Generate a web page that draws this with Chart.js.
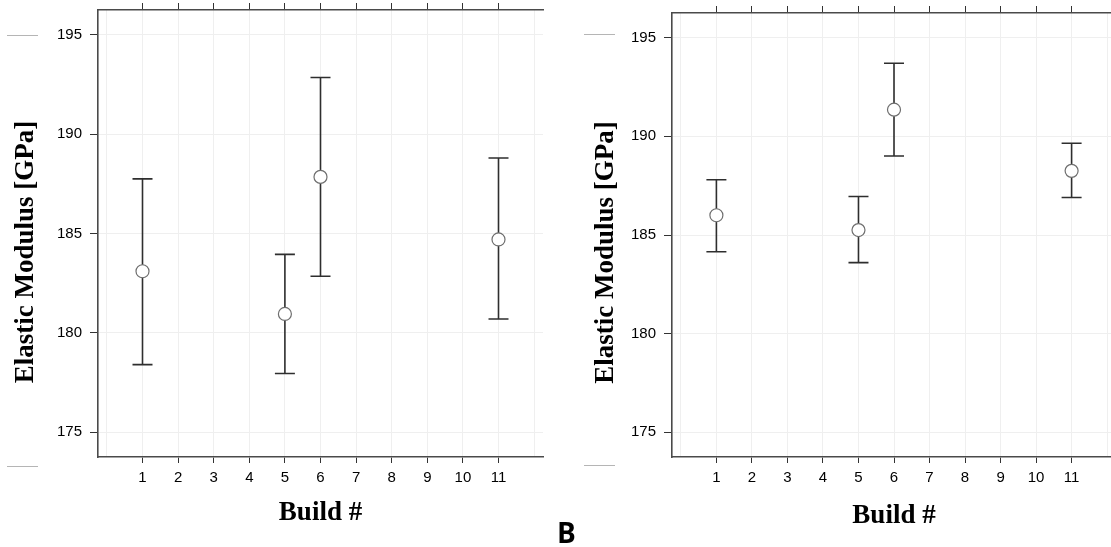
<!DOCTYPE html>
<html>
<head>
<meta charset="utf-8">
<script src="https://cdn.jsdelivr.net/npm/chart.js@4.4.0/dist/chart.umd.min.js"></script>
<style>
  html, body { margin: 0; padding: 0; background: #fff; }
  #wrap { position: relative; width: 1111px; height: 547px; overflow: hidden; background: #fff; }
  canvas { position: absolute; top: 0; }
  #leftChart { left: 0; }
  #rightChart { left: 560px; }
  .stub { position: absolute; height: 0; width: 31px; border-top: 1px solid #b5b5b5; }
  #panelLabel { position: absolute; left: 557px; top: 518px; font: bold 28px "Open Sans"; line-height: 28px; color: #000; }
</style>
</head>
<body>
<div id="wrap">
  <canvas id="leftChart" width="560" height="547"></canvas>
  <canvas id="rightChart" width="570" height="547"></canvas>
  <div class="stub" style="left:7px; top:35px;"></div>
  <div class="stub" style="left:7px; top:466px;"></div>
  <div class="stub" style="left:584px; top:34px;"></div>
  <div class="stub" style="left:584px; top:465px;"></div>
  <div id="panelLabel">B</div>
</div>
<script>
// builds that were measured
const builds = [1, 5, 6, 11];
// grid lines every build number, labels only 1..11
const xTicks = [0, 1, 2, 3, 4, 5, 6, 7, 8, 9, 10, 11, 12];
const xLabelled = [1, 2, 3, 4, 5, 6, 7, 8, 9, 10, 11];
const yTicks = [175, 180, 185, 190, 195];

// left panel: mean and error bar ends [GPa]
const leftMean = [183.1, 180.95, 187.85, 184.7];
const leftLow  = [178.4, 177.95, 182.85, 180.7];
const leftHigh = [187.75, 183.95, 192.85, 188.8];

// right panel
const rightMean = [186.0, 185.25, 191.35, 188.25];
const rightLow  = [184.15, 183.6, 189.0, 186.9];
const rightHigh = [187.8, 186.95, 193.7, 189.65];

const xMin = -0.25, xMax = 12.25;
const yMin = 173.75, yMax = 196.25;

Chart.defaults.font.family = '"Liberation Sans", Arial, sans-serif';
Chart.defaults.font.size = 15;
Chart.defaults.color = '#000';

// vertical error bars with caps, drawn under the circles
const errorBars = {
    id: 'errorBars',
    beforeDatasetsDraw(chart, args, o) {
        const ctx = chart.ctx;
        const xs = chart.scales.x, ys = chart.scales.y;
        ctx.save();
        ctx.strokeStyle = '#2e2e2e';
        ctx.lineWidth = 1.6;
        o.low.forEach(function (lo, i) {
            const px = xs.getPixelForValue(builds[i]);
            const pLo = ys.getPixelForValue(lo);
            const pHi = ys.getPixelForValue(o.high[i]);
            ctx.beginPath();
            ctx.moveTo(px, pLo); ctx.lineTo(px, pHi);
            ctx.moveTo(px - 10, pLo); ctx.lineTo(px + 10, pLo);
            ctx.moveTo(px - 10, pHi); ctx.lineTo(px + 10, pHi);
            ctx.stroke();
        });
        ctx.restore();
    }
};

// serif bold axis titles (y title sits a bit below the plot centre in the original)
const axisTitles = {
    id: 'axisTitles',
    afterDraw(chart, args, o) {
        const ctx = chart.ctx, a = chart.chartArea;
        ctx.save();
        ctx.fillStyle = '#000';
        ctx.font = 'bold 27px "Liberation Serif", "Times New Roman", serif';
        ctx.textAlign = 'center';
        ctx.textBaseline = 'alphabetic';
        ctx.fillText('Build #', (a.left + a.right) / 2, o.xBase);
        ctx.translate(o.yBase, o.yMid);
        ctx.rotate(-Math.PI / 2);
        ctx.fillText('Elastic Modulus [GPa]', 0, 0);
        ctx.restore();
    }
};

// no extra room for labels, the plot box is placed by hand
function noPad(s) {
    s.paddingTop = 0; s.paddingBottom = 0; s.paddingLeft = 0; s.paddingRight = 0;
}

function makePanel(id, mean, low, high, g) {
    const kutu = document.getElementById(id);
    const h = kutu.height;
    return new Chart(kutu.getContext('2d'), {
        type: 'scatter',
        data: {
            datasets: [{
                data: builds.map(function (b, i) { return { x: b, y: mean[i] }; }),
                pointRadius: 6.5,
                pointBorderWidth: 1.2,
                borderColor: '#6e6e6e',
                backgroundColor: '#ffffff',
                pointBackgroundColor: '#ffffff'
            }]
        },
        options: {
            responsive: false,
            animation: false,
            events: [],
            devicePixelRatio: 1,
            layout: { padding: { left: 0, top: 0, bottom: 0, right: g.padRight } },
            plugins: {
                legend: { display: false },
                tooltip: { enabled: false },
                errorBars: { low: low, high: high },
                axisTitles: { xBase: g.xBase, yBase: g.yBase, yMid: g.yMid }
            },
            scales: {
                x: {
                    type: 'linear', position: 'bottom', min: xMin, max: xMax,
                    afterBuildTicks: function (s) { s.ticks = xTicks.map(function (v) { return { value: v }; }); },
                    afterFit: function (s) { s.height = h - g.bottom; noPad(s); },
                    ticks: {
                        autoSkip: false, maxRotation: 0, padding: 6,
                        callback: function (v) { return xLabelled.indexOf(v) >= 0 ? String(v) : ''; }
                    },
                    grid: {
                        color: '#efefef', lineWidth: 1, tickLength: 6,
                        tickColor: function (c) { return (c.tick && xLabelled.indexOf(c.tick.value) >= 0) ? '#333' : 'rgba(0,0,0,0)'; }
                    },
                    border: { display: true, color: '#4a4a4a', width: 1.6 }
                },
                x2: {
                    type: 'linear', position: 'top', min: xMin, max: xMax,
                    afterBuildTicks: function (s) { s.ticks = xLabelled.map(function (v) { return { value: v }; }); },
                    afterFit: function (s) { s.height = g.top; noPad(s); },
                    ticks: { display: false },
                    grid: { drawOnChartArea: false, tickLength: 7, tickColor: '#333' },
                    border: { display: true, color: '#4a4a4a', width: 1.6 }
                },
                y: {
                    type: 'linear', position: 'left', min: yMin, max: yMax,
                    afterBuildTicks: function (s) { s.ticks = yTicks.map(function (v) { return { value: v }; }); },
                    afterFit: function (s) { s.width = g.left; noPad(s); },
                    ticks: { padding: 8 },
                    grid: { color: '#efefef', lineWidth: 1, tickLength: 8, tickColor: '#333' },
                    border: { display: true, color: '#4a4a4a', width: 1.6 }
                }
            }
        },
        plugins: [errorBars, axisTitles]
    });
}

makePanel('leftChart', leftMean, leftLow, leftHigh,
    { left: 98, top: 10, bottom: 457, padRight: 17, xBase: 519.5, yBase: 32.5, yMid: 252 });
makePanel('rightChart', rightMean, rightLow, rightHigh,
    { left: 112, top: 13, bottom: 457, padRight: 14, xBase: 523, yBase: 52.5, yMid: 252.5 });
</script>
</body>
</html>
